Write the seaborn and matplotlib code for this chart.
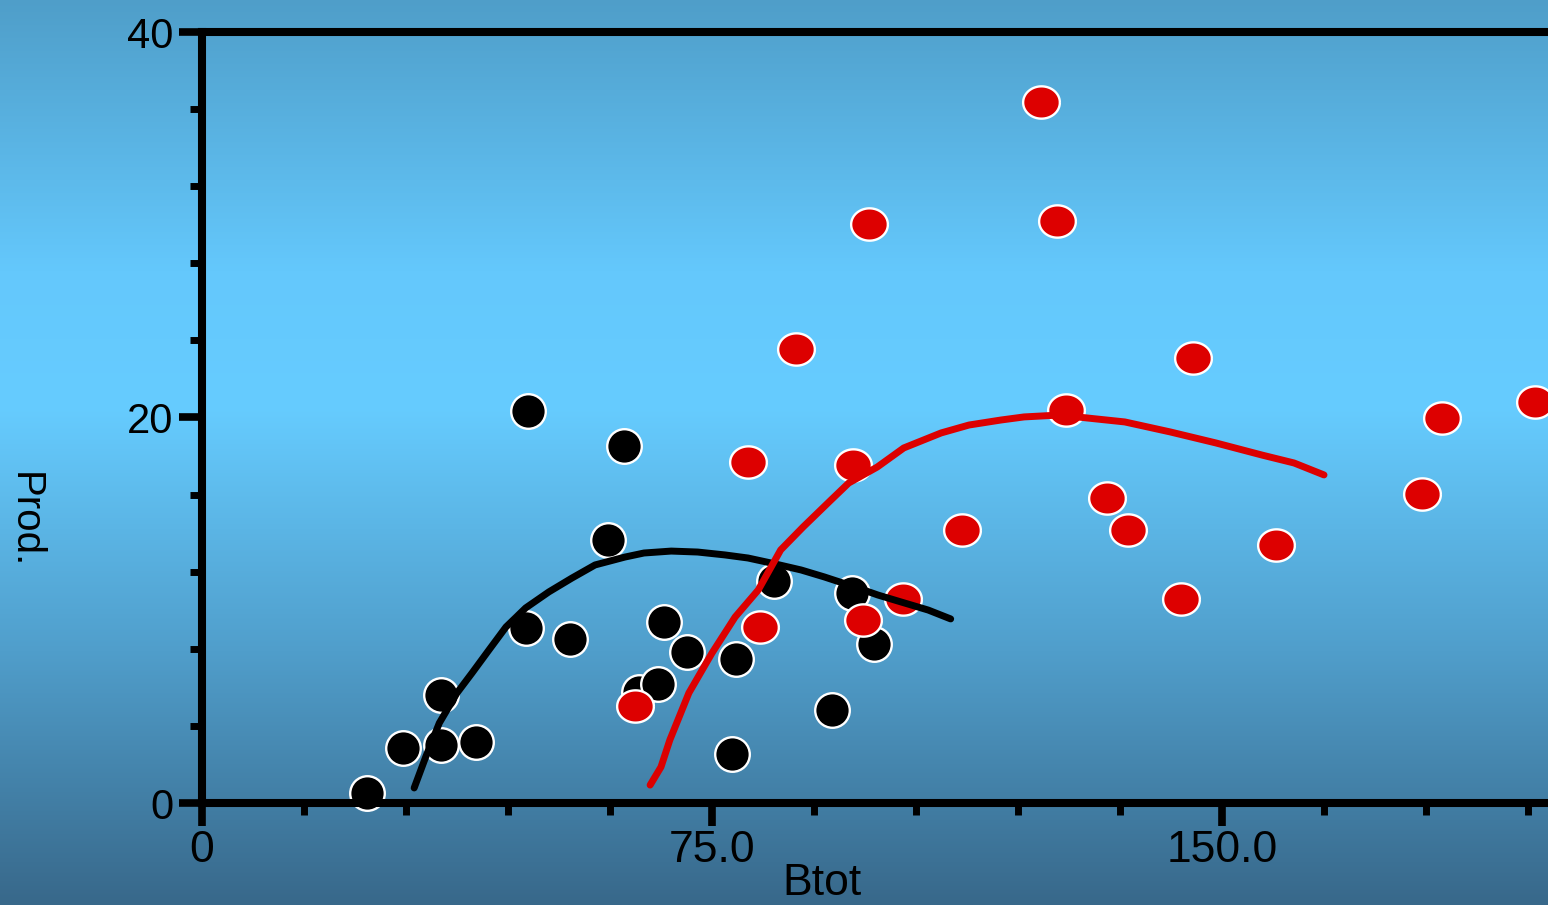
import numpy as np
import matplotlib
matplotlib.use('Agg')
import matplotlib.pyplot as plt
import seaborn as sns
from matplotlib.path import Path
from matplotlib.ticker import MultipleLocator, FixedLocator

# observed points
black_x = [24.3, 29.6, 35.1, 40.3, 35.1, 47.6, 54.1, 59.7, 47.9, 62.1,
           67.9, 71.3, 64.3, 67.1, 78.5, 77.9, 84.1, 92.6, 95.6, 98.8]
black_y = [0.52, 2.85, 3.01, 3.16, 5.60, 9.08, 8.51, 13.64, 20.34, 18.52,
           9.39, 7.83, 5.76, 6.17, 7.47, 2.54, 11.52, 4.82, 10.89, 8.25]

red_x = [63.7, 80.3, 82.1, 87.4, 95.7, 97.2, 98.1, 103.1, 111.8, 123.4,
         125.7, 127.1, 133.1, 136.2, 144.0, 145.7, 158.0, 179.4, 182.4, 196.0]
red_y = [5.03, 17.69, 9.13, 23.55, 17.54, 9.49, 30.04, 10.58, 14.16, 36.37,
         30.19, 20.39, 15.82, 14.16, 10.58, 23.09, 13.39, 16.03, 19.97, 20.80]

# fitted curves
black_fit_x = [31.2, 32.9, 34.9, 37.5, 39.7, 42.2, 44.7, 47.6, 51.0, 54.4, 57.8, 62.2, 65.0,
               69.0, 72.9, 76.9, 80.3, 83.7, 88.1, 91.5, 96.0, 99.4, 102.8, 106.8, 110.1]
black_fit_y = [0.78, 2.39, 4.15, 5.71, 6.74, 7.94, 9.13, 10.12, 10.95, 11.67, 12.35, 12.76, 12.97,
               13.07, 13.02, 12.87, 12.71, 12.45, 12.09, 11.73, 11.21, 10.79, 10.43, 10.01, 9.55]

red_fit_x = [65.9, 67.5, 68.8, 71.6, 75.0, 78.4, 81.8, 85.1, 88.4, 92.5, 95.1, 99.3, 103.2,
             108.7, 112.8, 117.5, 120.9, 126.2, 130.3, 135.7, 142.4, 149.1, 155.9, 160.6, 165.0]
red_fit_y = [0.93, 1.87, 3.27, 5.71, 7.78, 9.65, 11.05, 13.13, 14.32, 15.72, 16.60, 17.43, 18.42,
             19.20, 19.61, 19.87, 20.03, 20.13, 19.97, 19.77, 19.25, 18.68, 18.05, 17.64, 17.02]

x_ticks = [0, 75, 150]
x_tick_labels = ['0', '75.0', '150.0']
y_ticks = [0, 20, 40]
y_tick_labels = ['0', '20', '40']

sns.set_style('ticks', {'axes.edgecolor': 'black', 'text.color': 'black',
                        'xtick.color': 'black', 'ytick.color': 'black',
                        'axes.labelcolor': 'black'})
plt.rcParams['font.family'] = ['Liberation Sans', 'DejaVu Sans']

fig = plt.figure(figsize=(15.48, 9.05), dpi=100)

# gradient background
bg = fig.add_axes([0, 0, 1, 1], zorder=0)
stops = [0, 0.3, 0.45, 0.72, 1]
cols = np.array([[79, 158, 201], [100, 200, 252], [102, 204, 255],
                 [80, 158, 203], [56, 104, 138]]) / 255
yy = np.linspace(0, 1, 905)
grad = np.stack([np.interp(yy, stops, cols[:, i]) for i in range(3)], axis=-1)[:, None, :]
bg.imshow(grad, aspect='auto', extent=[0, 1, 0, 1], origin='upper')
bg.axis('off')

ax = fig.add_axes([202 / 1548, 102 / 905, 1360 / 1548, 771 / 905], zorder=1)
ax.patch.set_alpha(0)

t = np.linspace(0, 2 * np.pi, 60)
ellipse = Path(np.column_stack([np.cos(t), 0.88 * np.sin(t)]))

sns.scatterplot(x=black_x, y=black_y, color='black', s=620, edgecolor='white',
                linewidth=1.7, ax=ax, zorder=3, clip_on=False)
sns.scatterplot(x=red_x, y=red_y, color='#dd0000', marker=ellipse, s=700, edgecolor='white',
                linewidth=1.7, ax=ax, zorder=4, clip_on=False)
sns.lineplot(x=black_fit_x, y=black_fit_y, color='black', lw=5, sort=False, estimator=None,
             ax=ax, zorder=5, solid_capstyle='round')
sns.lineplot(x=red_fit_x, y=red_fit_y, color='#dd0000', lw=5, sort=False, estimator=None,
             ax=ax, zorder=6, solid_capstyle='round')

ax.set_xlim(0, 200)
ax.set_ylim(0, 40)
ax.xaxis.set_major_locator(FixedLocator(x_ticks))
ax.set_xticklabels(x_tick_labels)
ax.xaxis.set_minor_locator(MultipleLocator(15))
ax.yaxis.set_major_locator(FixedLocator(y_ticks))
ax.set_yticklabels(y_tick_labels)
ax.yaxis.set_minor_locator(MultipleLocator(4))

ax.spines['right'].set_visible(False)
for side in ['left', 'bottom', 'top']:
    ax.spines[side].set_linewidth(5.8)
    ax.spines[side].set_color('black')
    ax.spines[side].set_zorder(7)
ax.tick_params(which='major', length=16.5, width=5.5, color='black', labelcolor='black',
               labelsize=30, pad=4)
ax.tick_params(axis='x', which='major', labelsize=32, pad=3)
ax.tick_params(which='minor', length=8.5, width=5, color='black')

ax.set_xlabel('Btot', fontsize=32, color='black')
ax.xaxis.label.set_va('top')
ax.xaxis.set_label_coords(0.456, -0.078)
ax.set_ylabel('Prod.', fontsize=29, color='black')
ax.yaxis.label.set(rotation=-90, va='center', ha='center', rotation_mode='default')
ax.yaxis.set_label_coords(-0.130, 0.367)

fig.savefig('out.png', dpi=100)
